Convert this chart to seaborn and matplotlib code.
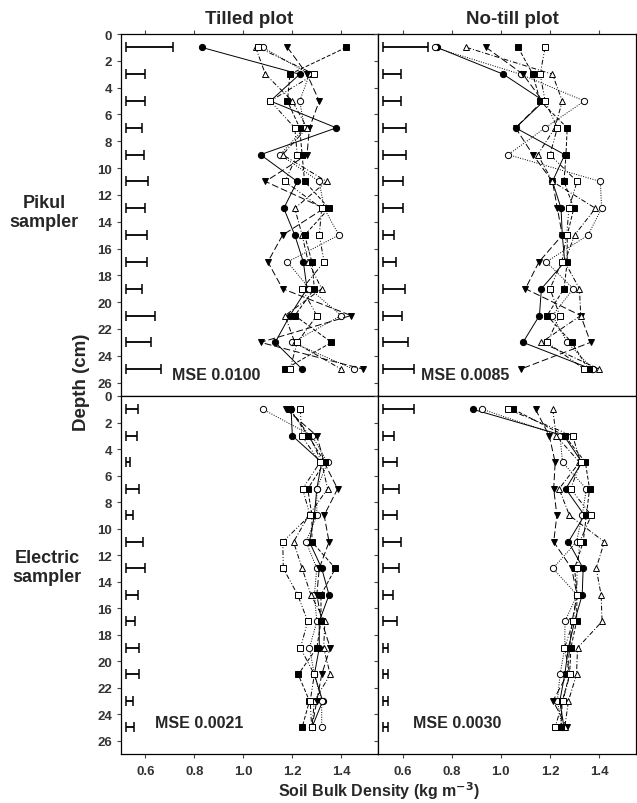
import matplotlib
matplotlib.use("Agg")
import matplotlib.pyplot as plt
import seaborn as sns

# depths (cm)
depth = [1, 3, 5, 7, 9, 11, 13, 15, 17, 19, 21, 23, 25]

# Tilled plot, Pikul sampler
tp_fc = [0.83, 1.23, 1.11, 1.38, 1.07, 1.22, 1.165, 1.21, 1.245, 1.26, 1.19, 1.13, 1.24]
tp_oc = [1.08, 1.27, 1.23, 1.25, 1.15, 1.31, 1.33, 1.39, 1.18, 1.27, 1.40, 1.20, 1.45]
tp_ft = [1.18, 1.26, 1.31, 1.27, 1.26, 1.09, 1.33, 1.16, 1.10, 1.16, 1.44, 1.07, 1.49]
tp_ot = [1.05, 1.09, 1.20, 1.26, 1.16, 1.34, 1.21, 1.24, 1.265, 1.32, 1.17, 1.21, 1.40]
tp_fs = [1.42, 1.19, 1.18, 1.23, 1.24, 1.25, 1.35, 1.25, 1.28, 1.29, 1.21, 1.36, 1.17]
tp_os = [1.06, 1.29, 1.11, 1.21, 1.22, 1.17, 1.32, 1.31, 1.33, 1.24, 1.30, 1.22, 1.19]
tp_bar = [0.193, 0.078, 0.078, 0.064, 0.074, 0.091, 0.078, 0.085, 0.085, 0.064, 0.119, 0.102, 0.143]

# No-till plot, Pikul sampler
np_fc = [0.74, 1.01, 1.175, 1.06, 1.26, 1.21, 1.245, 1.25, 1.26, 1.165, 1.157, 1.09, 1.37]
np_oc = [0.73, 1.08, 1.34, 1.18, 1.03, 1.405, 1.41, 1.355, 1.185, 1.295, 1.21, 1.27, 1.375]
np_ft = [0.94, 1.09, 1.17, 1.06, 1.13, 1.21, 1.23, 1.25, 1.155, 1.10, 1.325, 1.365, 1.08]
np_ot = [0.86, 1.21, 1.25, 1.22, 1.15, 1.21, 1.385, 1.30, 1.26, 1.32, 1.325, 1.165, 1.40]
np_fs = [1.07, 1.13, 1.16, 1.27, 1.265, 1.257, 1.297, 1.27, 1.27, 1.257, 1.188, 1.288, 1.357]
np_os = [1.18, 1.16, 1.18, 1.23, 1.20, 1.31, 1.277, 1.268, 1.248, 1.20, 1.24, 1.188, 1.34]
np_bar = [0.184, 0.073, 0.073, 0.093, 0.093, 0.082, 0.082, 0.045, 0.052, 0.089, 0.076, 0.103, 0.127]

# Tilled plot, Electric sampler
te_fc = [1.195, 1.20, 1.32, 1.30, 1.29, 1.27, 1.32, 1.35, 1.31, 1.31, 1.29, 1.324, 1.28]
te_oc = [1.08, 1.28, 1.344, 1.30, 1.30, 1.256, 1.30, 1.29, 1.30, 1.27, 1.29, 1.32, 1.32]
te_ft = [1.175, 1.30, 1.33, 1.385, 1.33, 1.35, 1.31, 1.30, 1.32, 1.355, 1.32, 1.30, 1.28]
te_ot = [1.19, 1.27, 1.32, 1.344, 1.267, 1.205, 1.24, 1.276, 1.333, 1.328, 1.355, 1.29, 1.28]
te_fs = [1.19, 1.265, 1.333, 1.263, 1.28, 1.28, 1.376, 1.317, 1.317, 1.30, 1.224, 1.27, 1.24]
te_os = [1.233, 1.238, 1.313, 1.242, 1.272, 1.161, 1.163, 1.222, 1.263, 1.233, 1.29, 1.273, 1.279]
te_bar = [0.051, 0.044, 0.017, 0.055, 0.030, 0.071, 0.078, 0.048, 0.037, 0.055, 0.055, 0.030, 0.033]

# No-till plot, Electric sampler
ne_fc = [0.885, 1.257, 1.33, 1.264, 1.34, 1.275, 1.335, 1.331, 1.30, 1.275, 1.26, 1.24, 1.257]
ne_oc = [0.925, 1.241, 1.251, 1.348, 1.331, 1.308, 1.212, 1.31, 1.261, 1.26, 1.241, 1.23, 1.25]
ne_ft = [1.141, 1.197, 1.221, 1.215, 1.228, 1.215, 1.288, 1.31, 1.29, 1.28, 1.27, 1.212, 1.27]
ne_ot = [1.211, 1.225, 1.32, 1.237, 1.279, 1.421, 1.388, 1.408, 1.412, 1.312, 1.308, 1.275, 1.26]
ne_fs = [1.051, 1.26, 1.344, 1.361, 1.348, 1.335, 1.30, 1.31, 1.308, 1.285, 1.28, 1.25, 1.244]
ne_os = [1.028, 1.292, 1.325, 1.284, 1.368, 1.321, 1.311, 1.308, 1.295, 1.259, 1.281, 1.252, 1.221]
ne_bar = [0.127, 0.045, 0.056, 0.065, 0.056, 0.073, 0.065, 0.042, 0.056, 0.022, 0.022, 0.022, 0.022]

bar_start = 0.52
mse_labels = ["MSE 0.0100", "MSE 0.0085", "MSE 0.0021", "MSE 0.0030"]

# marker, filled?, linestyle
styles = {
    "fc": ("o", True, "-"),
    "oc": ("o", False, (0, (1, 1.5))),
    "ft": ("v", True, (0, (7, 3))),
    "ot": ("^", False, (0, (5, 2, 1, 2))),
    "fs": ("s", True, (0, (4, 2))),
    "os": ("s", False, (0, (5, 2, 1, 2, 1, 2))),
}

panels = [
    {"fc": tp_fc, "oc": tp_oc, "ft": tp_ft, "ot": tp_ot, "fs": tp_fs, "os": tp_os, "bar": tp_bar},
    {"fc": np_fc, "oc": np_oc, "ft": np_ft, "ot": np_ot, "fs": np_fs, "os": np_os, "bar": np_bar},
    {"fc": te_fc, "oc": te_oc, "ft": te_ft, "ot": te_ot, "fs": te_fs, "os": te_os, "bar": te_bar},
    {"fc": ne_fc, "oc": ne_oc, "ft": ne_ft, "ot": ne_ot, "fs": ne_fs, "os": ne_os, "bar": ne_bar},
]

sns.set_style("ticks")
plt.rcParams["font.family"] = ["Liberation Sans", "DejaVu Sans"]
plt.rcParams["font.weight"] = "bold"

fig = plt.figure(figsize=(6.37, 8.04), dpi=100)

x_left, x_mid, x_right = 121 / 637, 378 / 637, 636 / 637
y_top, y_mid, y_bot = 1 - 35 / 804, 1 - 397 / 804, 1 - 755 / 804
rects = [
    [x_left, y_mid, x_mid - x_left, y_top - y_mid],
    [x_mid, y_mid, x_right - x_mid, y_top - y_mid],
    [x_left, y_bot, x_mid - x_left, y_mid - y_bot],
    [x_mid, y_bot, x_right - x_mid, y_mid - y_bot],
]
mse_pos = [(0.707, 25.4), (0.677, 25.4), (0.639, 24.6), (0.643, 24.6)]

tick_color = "#333333"
for i, (rect, pdata) in enumerate(zip(rects, panels)):
    ax = fig.add_axes(rect)
    for key, (mk, filled, ls) in styles.items():
        sns.lineplot(x=pdata[key], y=depth, sort=False, estimator=None, ax=ax,
                     color="black", linewidth=0.7, linestyle=ls,
                     marker=mk, markersize=5 if mk in "v^" else 4.5,
                     markerfacecolor="black" if filled else "white",
                     markeredgecolor="black", markeredgewidth=0.7)
    ax.errorbar([bar_start] * len(depth), depth,
                xerr=[[0] * len(depth), pdata["bar"]],
                fmt="none", ecolor="black", elinewidth=1.3, capsize=3.5, capthick=1.1)
    ax.set_xlim(0.5, 1.55)
    ax.set_ylim(27, 0)
    ax.set_xticks([0.6, 0.8, 1.0, 1.2, 1.4])
    ax.set_yticks(range(0, 27, 2))
    ax.set_xlabel("")
    ax.set_ylabel("")
    for sp in ax.spines.values():
        sp.set_visible(True)
        sp.set_linewidth(0.9)
        sp.set_color("black")
    top_row = i < 2
    left_col = i % 2 == 0
    ax.tick_params(axis="both", direction="out", length=3, width=0.8,
                   labelsize=9.5, labelcolor=tick_color, color="#444444")
    ax.tick_params(axis="x", top=top_row, bottom=True, labelbottom=not top_row,
                   labeltop=False, pad=5)
    ax.tick_params(axis="y", left=True, right=not left_col, labelleft=left_col, labelright=False)
    for lab in ax.get_xticklabels() + ax.get_yticklabels():
        lab.set_fontweight("bold")
    ax.xaxis.set_major_formatter(matplotlib.ticker.FormatStrFormatter("%.1f"))
    mx, my = mse_pos[i]
    ax.text(mx, my, mse_labels[i], fontsize=11.5, fontweight="bold", va="center", ha="left")

fig.text(249.5 / 637, 1 - 19 / 804, "Tilled plot", ha="center", va="center", fontsize=13.5, fontweight="bold")
fig.text(512 / 637, 1 - 19 / 804, "No-till plot", ha="center", va="center", fontsize=13.5, fontweight="bold")
fig.text(44 / 637, 1 - 213 / 804, "Pikul\nsampler", ha="center", va="center", fontsize=13,
         fontweight="bold", linespacing=1.1)
fig.text(47 / 637, 1 - 568 / 804, "Electric\nsampler", ha="center", va="center", fontsize=13,
         fontweight="bold", linespacing=1.1)
fig.text(81 / 637, 1 - 382 / 804, "Depth (cm)", rotation=90, ha="center", va="center",
         fontsize=13.5, fontweight="bold")
fig.text(379 / 637, 1 - 791 / 804, r"Soil Bulk Density (kg m$^{\mathbf{-3}}$)", ha="center",
         va="center", fontsize=11.5, fontweight="bold")

fig.savefig("out.png", dpi=100)
